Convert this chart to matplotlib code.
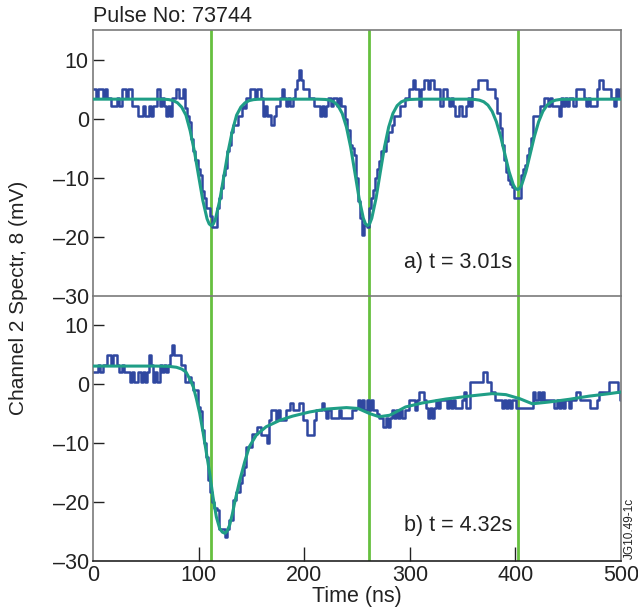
import numpy as np
import matplotlib
matplotlib.use("Agg")
import matplotlib.pyplot as plt

plt.rcParams['font.family'] = ['Liberation Sans', 'DejaVu Sans']

# ---------------- data ----------------
title_text = "Pulse No: 73744"
x_label = "Time (ns)"
y_label = "Channel 2 Spectr, 8 (mV)"
label_a = "a) t = 3.01s"
label_b = "b) t = 4.32s"
fig_id = "JG10.49-1c"

marker_times = [112, 261, 402]
x_ticks = [0, 100, 200, 300, 400, 500]
y_ticks = [-30, -20, -10, 0, 10]

# raw signal sampled every 2 ns from 0 to 500 ns
time_raw = list(range(0, 501, 2))

raw_a = [
    5.1, 5.1, 3.5, 5.1, 5.1, 3.5, 5.1, 3.5, 3.5, 2.1,
    2.1, 2.1, 3.5, 2.1, 5.1, 5.1, 3.5, 5.1, 5.1, 2.1,
    2.1, 2.1, 0.4, 0.4, 2.1, 0.4, 0.4, 2.1, 0.4, 2.1,
    2.1, 5.1, 2.1, 3.5, 2.1, 0.4, 2.1, 0.4, 3.5, 3.5,
    5.1, 3.5, 3.5, 5.1, 1.8, 0.4, -0.5, -3.5, -5.5, -7.0,
    -8.5, -9.5, -12.3, -13.5, -15.1, -15.1, -16.5, -18.3, -18.3, -15.1,
    -13.5, -11.8, -9.5, -8.4, -5.5, -4.4, -2.2, -1.0, -1.0, 0.4,
    0.4, 2.1, 1.8, 3.5, 3.5, 5.1, 5.1, 3.5, 5.1, 5.1,
    3.5, 0.4, 2.1, 0.4, 0.6, -1.0, 0.4, 2.1, 2.1, 3.5,
    5.1, 3.5, 2.1, 3.5, 2.1, 3.5, 5.1, 6.6, 8.3, 6.6,
    5.1, 5.1, 5.1, 3.5, 3.5, 2.1, 2.1, 2.1, 0.4, 2.1,
    0.4, 2.1, 3.5, 2.1, 3.5, 3.5, 2.1, 3.5, 2.1, 2.1,
    -0.1, -2.0, -4.4, -5.0, -6.1, -10.0, -14.0, -16.8, -19.7, -18.0,
    -18.3, -15.1, -13.5, -12.0, -10.0, -8.5, -7.2, -5.5, -5.5, -3.8,
    -2.2, -2.2, -1.0, 0.4, 0.4, 0.4, 2.1, 2.1, 3.5, 3.5,
    5.1, 5.1, 6.6, 5.1, 5.1, 2.1, 5.1, 6.6, 6.6, 5.1,
    6.6, 6.6, 5.1, 5.1, 5.1, 2.1, 5.1, 5.1, 3.5, 2.1,
    3.5, 2.1, 0.4, 0.4, 2.1, 0.4, 0.4, 2.1, 3.5, 2.1,
    5.1, 5.1, 5.1, 6.6, 6.6, 6.6, 6.6, 5.1, 5.1, 5.1,
    5.1, 3.5, 1.0, -1.5, -4.4, -7.0, -9.0, -10.3, -11.0, -11.5,
    -13.4, -13.4, -13.4, -9.5, -8.5, -7.8, -6.1, -5.0, -3.3, 0.4,
    0.4, 0.4, 2.1, 2.1, 3.5, 3.5, 2.1, 3.5, 2.1, 2.1,
    2.1, 0.4, 3.5, 2.1, 3.5, 2.1, 3.5, 3.5, 2.1, 5.1,
    5.1, 5.1, 5.1, 3.5, 2.1, 3.5, 2.1, 2.1, 2.1, 5.1,
    6.6, 6.6, 5.1, 5.1, 5.1, 5.1, 3.5, 2.1, 5.1, 3.5,
    5.1,
]

raw_b = [
    2.1, 2.1, 2.1, 3.2, 2.1, 3.2, 3.2, 4.9, 4.9, 3.2,
    4.9, 4.9, 3.2, 2.1, 3.2, 2.1, 2.1, 2.1, 0.4, 2.1,
    0.4, 0.4, 2.1, 0.4, 2.1, 0.4, 2.1, 4.9, 3.2, 0.4,
    2.1, 0.4, 3.2, 2.1, 3.2, 2.1, 3.2, 4.9, 6.6, 4.9,
    4.9, 4.9, 3.2, 3.2, 0.4, 0.4, 1.2, 0.4, -1.0, -1.0,
    -3.8, -4.5, -7.8, -10.0, -12.3, -16.3, -18.2, -19.9, -21.0, -21.4,
    -24.5, -24.5, -24.5, -25.9, -24.5, -23.1, -23.1, -19.7, -18.2, -18.2,
    -16.8, -15.4, -14.0, -10.6, -10.6, -10.6, -8.4, -8.4, -7.2, -7.2,
    -8.6, -8.6, -8.6, -10.0, -6.1, -4.4, -4.4, -6.1, -4.4, -6.1,
    -6.1, -6.1, -4.4, -4.4, -3.1, -4.4, -4.4, -4.4, -3.1, -3.1,
    -6.1, -6.1, -8.6, -8.6, -8.6, -6.1, -4.4, -4.4, -4.4, -3.1,
    -4.4, -5.8, -4.4, -5.8, -5.8, -5.8, -5.8, -4.4, -5.8, -5.8,
    -5.8, -5.8, -5.8, -4.4, -4.4, -4.1, -2.7, -4.1, -2.7, -4.4,
    -2.7, -4.4, -2.7, -4.4, -4.4, -5.0, -5.8, -5.8, -7.2, -5.8,
    -7.2, -5.8, -4.4, -5.8, -4.4, -5.8, -4.4, -5.8, -4.4, -4.4,
    -2.7, -2.7, -2.7, -4.4, -2.7, -1.3, -1.3, -2.7, -4.1, -5.8,
    -4.1, -5.8, -4.1, -2.7, -4.1, -2.7, -2.7, -2.7, -4.1, -2.7,
    -4.1, -2.7, -4.1, -4.1, -4.1, -2.7, -1.3, -4.1, -4.1, 0.4,
    0.4, 0.4, 0.4, 0.4, 0.4, 2.1, 2.1, 0.4, 0.4, -1.3,
    -1.3, -2.7, -2.7, -2.7, -4.1, -2.7, -4.1, -2.7, -4.1, -2.7,
    -2.7, -4.1, -4.1, -4.1, -4.1, -4.1, -4.1, -4.1, -4.1, -1.3,
    -2.7, -1.3, -2.7, -1.3, -2.7, -2.7, -2.7, -2.7, -2.7, -4.1,
    -2.7, -4.1, -2.7, -4.1, -2.7, -2.7, -4.1, -2.7, -2.7, -1.3,
    -1.3, -2.7, -2.7, -2.7, -2.7, -2.7, -4.1, -4.1, -4.1, -2.7,
    -1.3, -1.3, -1.3, -1.3, -1.3, 0.4, 0.4, 0.4, 0.4, -1.3,
    -2.7,
]

# fitted curves
fit_a_t = [0, 60, 68, 72, 76, 80, 84, 88, 92, 96, 100, 104, 108, 110, 112, 114,
           116, 120, 124, 128, 132, 136, 140, 144, 148, 152, 156, 160,
           212, 220, 224, 228, 232, 236, 240, 244, 248, 252, 256, 258, 260, 262,
           264, 268, 272, 276, 280, 284, 288, 292, 296, 300, 308,
           354, 362, 366, 370, 374, 378, 382, 386, 390, 394, 398, 400, 402, 404,
           406, 410, 414, 418, 422, 426, 430, 434, 438, 442, 446, 500]
fit_a_v = [3.3, 3.3, 3.28, 3.22, 3.06, 2.69, 1.95, 0.6, -2.04, -5.5, -9.68, -13.83, -16.94, -17.8, -18.1, -17.8,
           -16.94, -13.83, -9.68, -5.5, -2.04, 0.6, 1.95, 2.69, 3.06, 3.22, 3.28, 3.3,
           3.3, 3.25, 3.14, 2.85, 2.2, 0.88, -1.42, -4.83, -9.12, -13.5, -16.84, -17.78, -18.1, -17.78,
           -16.84, -13.5, -9.12, -4.83, -1.42, 0.88, 2.2, 2.85, 3.14, 3.25, 3.3,
           3.3, 3.24, 3.13, 2.86, 2.29, 1.23, -0.52, -2.99, -5.98, -8.95, -11.17, -11.79, -12.0, -11.79,
           -11.17, -8.95, -5.98, -2.99, -0.52, 1.23, 2.29, 2.86, 3.13, 3.24, 3.28, 3.3]

fit_b_t = [0, 60, 72, 79, 84, 88, 92, 95, 98, 101, 104, 107, 110.5, 113.6, 116.8, 120,
           122.5, 125, 127, 129.4, 132, 134, 139, 143.6, 148, 154.7, 164, 177, 189, 205,
           221, 240, 251, 262, 271, 281, 296, 312, 334, 356, 378, 391, 404, 416, 432,
           451, 470, 489, 500]
fit_b_v = [3.1, 3.1, 3.05, 2.9, 2.6, 2.1, 0.8, -0.45, -2.5, -4.9, -7.9, -11.2, -15.1, -19.1, -22.5, -24.5,
           -25.1, -25.3, -24.9, -23.9, -22.0, -20.2, -16.3, -13.2, -10.6, -8.6, -7.2, -6.1, -5.4, -4.7,
           -4.2, -3.95, -4.1, -4.97, -5.5, -5.25, -3.84, -3.16, -2.5, -2.0, -1.58, -1.75, -2.43, -3.3, -3.0,
           -2.54, -2.0, -1.58, -1.3]

# ---------------- style ----------------
BLUE = '#2f47a0'
TEAL = '#1f9e86'
GREEN = '#66c03f'
GRAY = '#7a7a7a'
FS = 15.5

fig = plt.figure(figsize=(6.38, 6.10), dpi=100)
L, R = 93 / 638, 621 / 638
ax_a = fig.add_axes([L, 1 - 296 / 610, R - L, 266 / 610])
ax_b = fig.add_axes([L, 1 - 561 / 610, R - L, 265 / 610])

for ax, raw, ft, fv in [(ax_a, raw_a, fit_a_t, fit_a_v), (ax_b, raw_b, fit_b_t, fit_b_v)]:
    for mt in marker_times:
        ax.axvline(mt, color=GREEN, lw=2.0, zorder=1)
    ax.plot(time_raw, raw, color=BLUE, lw=1.8, drawstyle='steps-mid', zorder=2)
    ax.plot(ft, fv, color=TEAL, lw=2.2, zorder=3)
    ax.set_xlim(0, 500)
    ax.set_ylim(-30, 15)
    ax.set_yticks(y_ticks)
    ax.set_yticklabels([f"{v}".replace('-', '\u2013') for v in y_ticks], fontsize=FS)
    ax.tick_params(axis='y', direction='in', length=8, width=1.0, color='#222222', pad=3,
                   labelcolor='#222222')
    for s in ax.spines.values():
        s.set_color(GRAY)
        s.set_linewidth(1.2)

# hide tick marks at -30 (boundary)
for ax in (ax_a, ax_b):
    ticks = ax.yaxis.get_major_ticks()
    ticks[0].tick1line.set_visible(False)

ax_a.set_xticks([])
ax_a.spines['bottom'].set_visible(False)
ax_b.spines['top'].set_color(GRAY)
ax_b.spines['bottom'].set_color('#222222')
ax_b.set_xticks(x_ticks)
ax_b.set_xticklabels([str(v) for v in x_ticks], fontsize=FS)
ax_b.tick_params(axis='x', direction='in', length=10, width=1.0, color='#222222', pad=3,
                 labelcolor='#222222')
xt = ax_b.xaxis.get_major_ticks()
xt[0].tick1line.set_visible(False)
xt[-1].tick1line.set_visible(False)
ax_b.set_xlabel(x_label, fontsize=FS, labelpad=0, color='#222222')

ax_a.text(397, -24.4, label_a, fontsize=FS, ha='right', va='center', color='#222222')
ax_b.text(397, -23.9, label_b, fontsize=FS, ha='right', va='center', color='#222222')

fig.text(93 / 638, 1 - 17 / 610, title_text, fontsize=FS, ha='left', va='center', color='#222222')
fig.text(19 / 638, 1 - 298 / 610, y_label, fontsize=15, rotation=90, ha='center', va='center', color='#222222')
fig.text(630 / 638, 1 - 528 / 610, fig_id, fontsize=8.5, rotation=90, ha='center', va='center', color='#222222')

fig.savefig('out.png', dpi=100)
